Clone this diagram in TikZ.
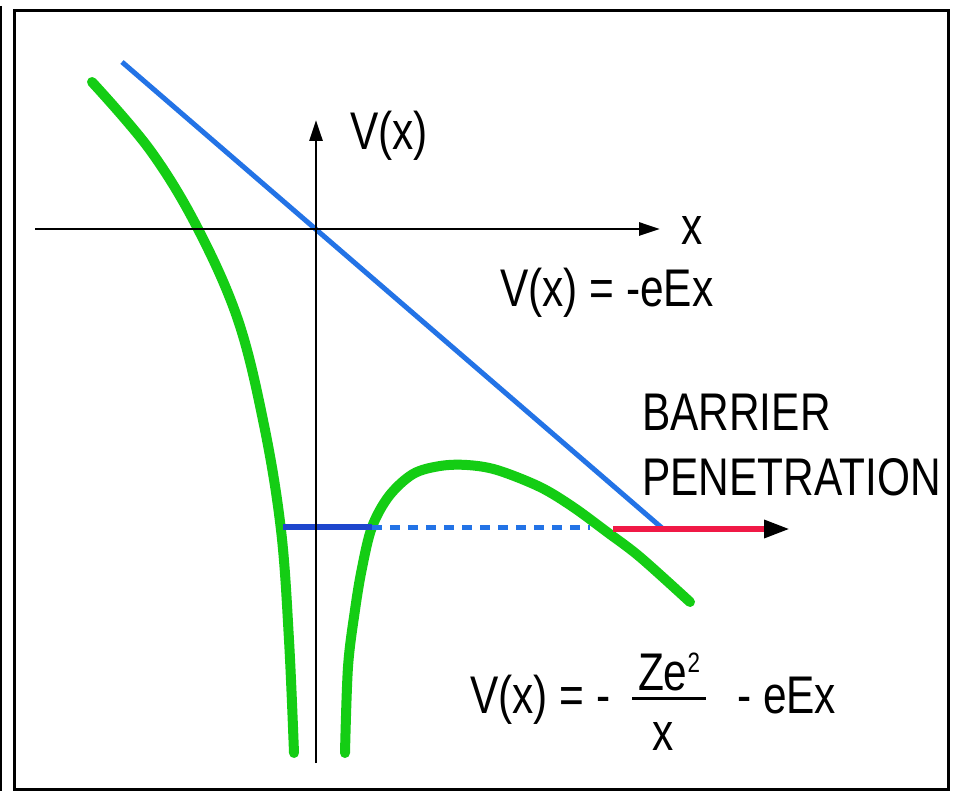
\documentclass[tikz,border=0pt]{standalone}
\usepackage{fontspec}
\setmainfont{Liberation Sans}[FakeStretch=0.8]
\usetikzlibrary{arrows.meta}
\definecolor{gcurve}{RGB}{20,205,20}
\definecolor{bline}{RGB}{35,115,230}
\definecolor{bdark}{RGB}{30,70,205}
\definecolor{rline}{RGB}{240,25,70}
\begin{document}
\begin{tikzpicture}[x=1pt,y=-1pt,
  lbl/.style={inner sep=0pt,anchor=base west,font=\fontsize{53}{60}\selectfont},
  axis/.style={line width=2.8pt,-{Triangle[length=21pt,width=13pt]}},
  green curve/.style={gcurve,line width=10pt,line cap=round,line join=round}]
\useasboundingbox (0,0) rectangle (955,791);
\fill[white] (0,0) rectangle (955,791);
% frame
\draw[line width=1.5pt] (1,6) -- (1,791);
\draw[line width=3.5pt] (14.5,10.5) rectangle (948.5,789.5);
% coordinates
\coordinate (O) at (316,229);
\coordinate (xl) at (35,229);
\coordinate (xr) at (660,229);
\coordinate (yb) at (316,763);
\coordinate (yt) at (316,120);
\coordinate (b1) at (122,62);
\coordinate (b2) at (662,528);
\coordinate (h1) at (283,527);
\coordinate (h2) at (372,527);
\coordinate (h3) at (590,527);
\coordinate (r1) at (613,529);
\coordinate (r2) at (790,529);
% green curve
\draw[green curve] plot[smooth,tension=0.6] coordinates {(92,82) (150,150) (197,227) (238,320) (264,425) (281,530) (289,640) (294,753)};
\draw[green curve] plot[smooth,tension=0.55] coordinates {(345,753) (348,667) (355,610) (362,568) (372,527) (389,496) (413,474) (440,466) (467,465) (497,470) (540,487) (573,507) (607,532) (640,557) (690,602)};
% blue line
\draw[bline,line width=5pt] (b1) -- (b2);
% energy level
\draw[bdark,line width=6pt] (h1) -- (h2);
\draw[bline,line width=5pt,dash pattern=on 10pt off 8pt] (h2) -- (h3);
% barrier penetration arrow
\draw[rline,line width=6pt,-{Triangle[length=26pt,width=17pt,color=black]}] (r1) -- (r2);
% axes
\draw[axis] (xl) -- (xr);
\draw[axis] (yb) -- (yt);
% labels
\node[lbl] (vlab) at (350,150) {V(x)};
\node[lbl] (xlab) at (681,245) {x};
\node[lbl] (eq1) at (500,307) {V(x) = -eEx};
\node[lbl] (bar1) at (642,430) {BARRIER};
\node[lbl] (bar2) at (642,495) {PENETRATION};
\node[lbl] (eq2a) at (470,713) {V(x) = -};
\node[lbl,anchor=base] (num) at (669,690) {Ze\raisebox{18pt}{\fontsize{28}{30}\selectfont 2}};
\node[lbl,anchor=base] (den) at (663,750) {x};
\draw[line width=3pt] (632,698) -- (706,698);
\node[lbl] (eq2b) at (737,713) {- eEx};
\end{tikzpicture}
\end{document}
